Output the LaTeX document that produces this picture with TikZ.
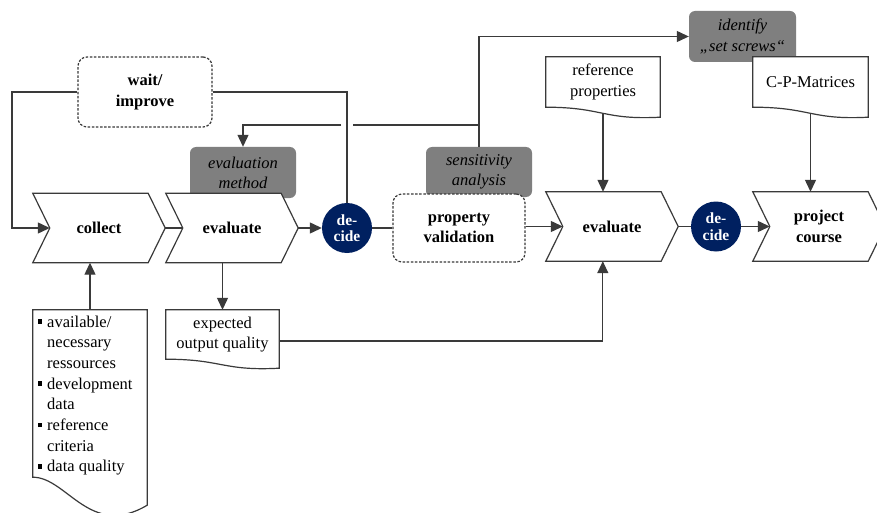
\documentclass[tikz,border=0pt]{standalone}
\usepackage{fontspec}
\setmainfont{Liberation Serif}
\usetikzlibrary{arrows.meta,calc}

\pgfdeclarelayer{back}
\pgfdeclarelayer{mid}
\pgfsetlayers{back,mid,main}

\definecolor{decideblue}{HTML}{002060}
\definecolor{linegray}{HTML}{3A3A3A}
\definecolor{boxgray}{HTML}{7F7F7F}

\newcommand\listbullet{\rule[3.4pt]{4.3pt}{4.3pt}}

% chevron outline around a named node (notch left, point right)
\newcommand\chevronoutline[1]{%
  \draw[shapeline,fill=white] (#1.north west) -- ($(#1.north east)+(-17,0)$) -- (#1.east)
    -- ($(#1.south east)+(-17,0)$) -- (#1.south west) -- ($(#1.west)+(17,0)$) -- cycle;}

% document outline with a wavy bottom: node, drop of right end, first control, dip
\newcommand\docoutline[4]{%
  \draw[shapeline,fill=white] (#1.south west) -- (#1.north west) -- (#1.north east)
    -- ($(#1.south east)+(0,#2)$)
    .. controls ($(#1.south west)!0.5!(#1.south east)+(0,#4)$)
       and ($(#1.south west)!#3!(#1.south east)$) .. (#1.south west) -- cycle;}

\tikzset{
  shapeline/.style={draw=linegray, line width=1.2pt},
  conn/.style={draw=linegray, line width=1.2pt},
  arr/.style={conn, -{Triangle[length=12pt,width=11pt]}},
  chevron/.style={minimum width=132pt, minimum height=69pt, inner sep=0pt, align=center,
    font=\fontsize{16.5}{20.7}\selectfont\bfseries},
  docnode/.style={inner sep=0pt, align=center, font=\fontsize{16.5}{20.7}\selectfont},
  decide/.style={circle, fill=decideblue, minimum size=50pt, inner sep=0pt, text=white,
    align=center, font=\fontsize{15.5}{16.5}\selectfont\bfseries},
  dashbox/.style={shapeline, dash pattern=on 2.5pt off 1.6pt, rounded corners=9pt, fill=white,
    inner sep=0pt, align=center, font=\fontsize{16.5}{20.7}\selectfont\bfseries},
  graybox/.style={fill=boxgray, rounded corners=6pt, inner sep=0pt, align=center,
    text=black, font=\fontsize{16.5}{20.2}\selectfont\itshape},
}

\begin{document}
\begin{tikzpicture}[x=1pt,y=-1pt]
\useasboundingbox (0,0) rectangle (877,513);

% page background
\begin{pgfonlayer}{back}
  \fill[white] (0,0) rectangle (877,513);
\end{pgfonlayer}

% grey annotation boxes (partly hidden behind the process shapes)
\begin{pgfonlayer}{back}
  \node[graybox, minimum width=106pt, minimum height=51pt] (evalm) at (243,172.5) {evaluation\\method};
  \node[graybox, minimum width=106pt, minimum height=50pt] (sens) at (479,172) {sensitivity\\analysis};
  \node[graybox, minimum width=107pt, minimum height=51pt] (screws) at (742.5,36.5) {identify\\„set screws“};
\end{pgfonlayer}

% process chevrons
\node[chevron] (collect) at (99,228) {collect};
\node[chevron] (evalA) at (232,228) {evaluate};
\node[chevron] (evalB) at (612,226.5) {evaluate};
\node[chevron] (projc) at (819,226.5) {project\\course};

% decision points
\node[decide] (dec1) at (347,228) {de-\\cide};
\node[decide] (dec2) at (716,226.5) {de-\\cide};

% dashed optional steps
\node[dashbox, minimum width=134pt, minimum height=70pt] (wait) at (145,92) {wait/\\improve};
\node[dashbox, minimum width=132pt, minimum height=68pt] (propval) at (459,228) {property\\validation};

% documents
\node[docnode, minimum width=114pt, minimum height=50pt] (refprop) at (603,82) {reference\\properties};
\node[docnode, minimum width=115pt, minimum height=50pt] (cpm) at (810.5,82) {C-P-Matrices};
\node[docnode, minimum width=113pt, minimum height=49pt] (expq) at (222.5,334.5) {expected\\output quality};
\node[docnode, minimum width=114pt, minimum height=167pt] (facts) at (90,393.5) {};
\node[anchor=base west, inner sep=0pt, font=\fontsize{16.5}{20.7}\selectfont] (factstext) at (37.7,327)
  {\begin{tabular}[t]{@{}l@{\hspace{5pt}}l@{}}
    \listbullet & available/\\
                & necessary\\
                & ressources\\
    \listbullet & development\\
                & data\\
    \listbullet & reference\\
                & criteria\\
    \listbullet & data quality
  \end{tabular}};

\begin{pgfonlayer}{mid}
  \chevronoutline{collect}
  \chevronoutline{evalA}
  \chevronoutline{evalB}
  \chevronoutline{projc}
  \docoutline{refprop}{10}{0.5}{13}
  \docoutline{cpm}{10}{0.5}{13}
  \docoutline{expq}{9}{0.5}{12}
  \docoutline{facts}{28}{0.3}{62}
\end{pgfonlayer}

% helper points
\coordinate (lft) at (12,92);
\coordinate (jrow) at (0,125);
\coordinate (J) at (sens.north |- jrow);
\coordinate (X) at (dec1.north |- J);
\coordinate (collectnotch) at ($(collect.west)+(17,0)$);
\coordinate (evalAnotch) at ($(evalA.west)+(17,0)$);
\coordinate (evalBnotch) at ($(evalB.west)+(17,0)$);
\coordinate (projcnotch) at ($(projc.west)+(17,0)$);
\coordinate (evalBbot) at ($(evalB.south west)+(57,0)$);

% main flow
\draw[conn] (collect.east) -- (evalAnotch);
\draw[arr] (evalA.east) -- (dec1.west);
\draw[conn] (dec1.east) -- (propval.west |- dec1.east);
\draw[arr] (propval.east |- evalBnotch) -- (evalBnotch);
\draw[conn] (evalB.east) -- (dec2.west);
\draw[arr] (dec2.east) -- (projcnotch);

% feedback loop through wait/improve
\draw[conn] (dec1.north) |- (wait.east);
\draw[arr] (wait.west) -- (lft) |- (collectnotch);

% sensitivity analysis branches
\draw[arr] (sens.north) |- (screws.west);
\draw[conn] (J) -- ($(X)+(6,0)$);
\draw[arr] ($(X)+(-6,0)$) -| (evalm.north);

% document inputs and outputs
\draw[arr] (facts.north) -- (facts.north |- collect.south);
\draw[arr] (expq.north |- evalA.south) -- (expq.north);
\draw[arr] ($(expq.east)+(0,6.5)$) -| (evalBbot);
\draw[arr] ($(refprop.south)+(0,6)$) -- (refprop.south |- evalB.north);
\draw[arr] ($(cpm.south)+(0,6)$) -- (cpm.south |- projc.north);
\end{tikzpicture}
\end{document}
